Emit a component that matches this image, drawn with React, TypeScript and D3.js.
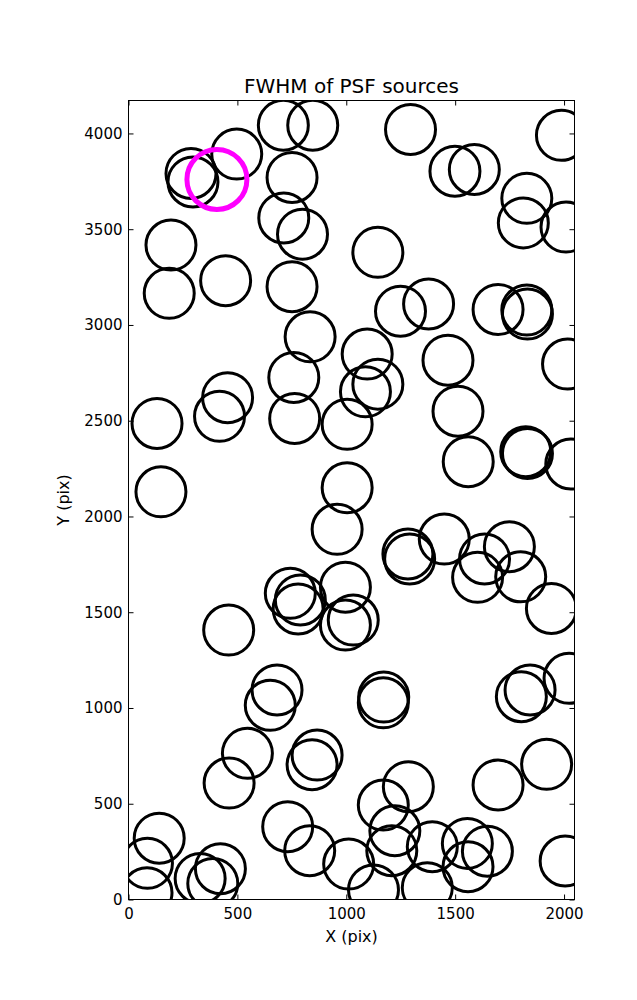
import React, { useRef, useEffect } from 'react';
import * as d3 from 'd3';

// source positions on the detector (pix)
const srcX = [
  711, 846, 497, 287, 296, 751, 713, 799, 195, 446, 187, 751, 1295, 1988, 1499, 1588,
  1829, 1813, 2009, 1145, 834, 759, 455, 418, 131, 763, 1004, 149, 1004, 1249, 1378,
  1697, 1829, 1832, 2016, 1096, 1145, 1088, 1467, 1513, 1560, 1824, 1832, 2031, 460,
  682, 958, 743, 789, 779, 996, 1032, 996, 1283, 1291, 1450, 1635, 1749, 1603, 1801,
  1942, 1172, 1170, 1804, 1844, 2023, 651, 546, 462, 866, 843, 731, 832, 1011, 141,
  87, 85, 329, 422, 387, 1920, 1697, 1285, 1170, 1223, 1209, 1395, 1556, 1648, 1559,
  1125, 1372, 2005,
];
const srcY = [
  4043, 4043, 3892, 3791, 3747, 3770, 3559, 3474, 3417, 3231, 3165, 3200, 4021, 3990, 3803, 3812,
  3661, 3533, 3511, 3379, 2938, 2726, 2620, 2523, 2486, 2512, 2481, 2129, 2150, 3072, 3110,
  3081, 3078, 3057, 2796, 2848, 2691, 2651, 2816, 2550, 2286, 2338, 2329, 2274, 1407,
  1094, 1933, 1599, 1564, 1517, 1631, 1459, 1433, 1804, 1778, 1882, 1778, 1842, 1682, 1685,
  1520, 1057, 1027, 1059, 1094, 1155, 1014, 763, 608, 754, 704, 380, 255, 185, 320,
  189, 35, 110, 161, 84, 706, 598, 589, 493, 359, 255, 276, 293, 252, 171,
  50, 62, 201,
];
// selected source
const selX = [406];
const selY = [3760];

const xTicks = [0, 500, 1000, 1500, 2000];
const yTicks = [0, 500, 1000, 1500, 2000, 2500, 3000, 3500, 4000];

const W = 637;
const H = 1000;
const FONT = '"DejaVu Sans", sans-serif';

const App: React.FC = () => {
  const ref = useRef<SVGSVGElement>(null);

  useEffect(() => {
    if (!ref.current) return;
    const svg = d3.select(ref.current);
    svg.selectAll('*').remove();

    const left = 128.5, right = 574.5, top = 100.5, bottom = 899.5;
    const x = d3.scaleLinear().domain([0, 2048]).range([left, right]);
    const y = d3.scaleLinear().domain([0, 4172]).range([bottom, top]);

    svg.append('rect').attr('width', W).attr('height', H).attr('fill', '#fff');

    svg.append('clipPath').attr('id', 'plotclip')
      .append('rect')
      .attr('x', left).attr('y', top)
      .attr('width', right - left).attr('height', bottom - top);

    const pts = srcX.map((v, i) => ({ x: v, y: srcY[i] }));
    const g = svg.append('g').attr('clip-path', 'url(#plotclip)');
    g.selectAll('circle.src')
      .data(pts)
      .enter()
      .append('circle')
      .attr('class', 'src')
      .attr('cx', d => x(d.x))
      .attr('cy', d => y(d.y))
      .attr('r', 25)
      .attr('fill', 'none')
      .attr('stroke', '#000')
      .attr('stroke-width', 3);

    g.selectAll('circle.sel')
      .data(selX.map((v, i) => ({ x: v, y: selY[i] })))
      .enter()
      .append('circle')
      .attr('class', 'sel')
      .attr('cx', d => x(d.x))
      .attr('cy', d => y(d.y))
      .attr('r', 30)
      .attr('fill', 'none')
      .attr('stroke', '#ff00ff')
      .attr('stroke-width', 5);

    // axes, ticks pointing inward on all four sides
    const styleAxis = (sel: d3.Selection<SVGGElement, unknown, null, undefined>) => {
      sel.attr('font-family', FONT).attr('font-size', 15);
      sel.select('.domain').remove();
      sel.selectAll('.tick line').attr('stroke', '#000');
      sel.selectAll('.tick text').attr('fill', '#000');
    };

    svg.append('g')
      .attr('transform', `translate(0,${bottom})`)
      .call(d3.axisBottom(x).tickValues(xTicks).tickSize(-5).tickPadding(9).tickFormat(d3.format('d')))
      .call(styleAxis);

    svg.append('g')
      .attr('transform', `translate(0,${top})`)
      .call(d3.axisTop(x).tickValues(xTicks).tickSize(-5).tickFormat(() => ''))
      .call(styleAxis);

    svg.append('g')
      .attr('transform', `translate(${left},0)`)
      .call(d3.axisLeft(y).tickValues(yTicks).tickSize(-5).tickPadding(6).tickFormat(d3.format('d')))
      .call(styleAxis);

    svg.append('g')
      .attr('transform', `translate(${right},0)`)
      .call(d3.axisRight(y).tickValues(yTicks).tickSize(-5).tickFormat(() => ''))
      .call(styleAxis);

    svg.append('rect')
      .attr('x', left).attr('y', top)
      .attr('width', right - left).attr('height', bottom - top)
      .attr('fill', 'none').attr('stroke', '#000').attr('stroke-width', 1);

    svg.append('text')
      .attr('x', (left + right) / 2).attr('y', 93)
      .attr('text-anchor', 'middle')
      .attr('font-family', FONT).attr('font-size', 20)
      .text('FWHM of PSF sources');

    svg.append('text')
      .attr('x', (left + right) / 2).attr('y', 942)
      .attr('text-anchor', 'middle')
      .attr('font-family', FONT).attr('font-size', 16)
      .text('X (pix)');

    svg.append('text')
      .attr('transform', `translate(69,${(top + bottom) / 2}) rotate(-90)`)
      .attr('text-anchor', 'middle')
      .attr('font-family', FONT).attr('font-size', 16)
      .text('Y (pix)');
  }, []);

  return (
    <svg
      ref={ref}
      width={W}
      height={H}
      viewBox={`0 0 ${W} ${H}`}
      style={{ position: 'absolute', left: 0, top: 0, display: 'block' }}
    />
  );
};

export default App;
